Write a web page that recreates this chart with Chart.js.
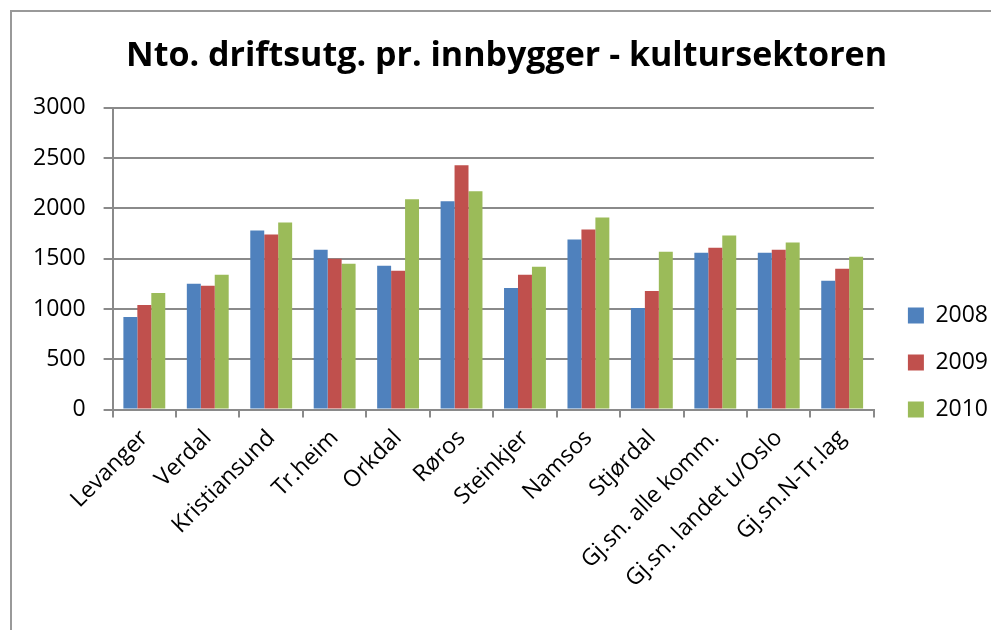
<!DOCTYPE html>
<html>
<head>
<meta charset="utf-8">
<script src="https://cdn.jsdelivr.net/npm/chart.js@4"></script>
<style>
  html, body { margin: 0; padding: 0; background: #fff; }
</style>
</head>
<body>
<canvas id="chart" width="999" height="630"></canvas>
<script>
'use strict';

// categories along the x axis
var labelsArray = ['Levanger', 'Verdal', 'Kristiansund', 'Tr.heim', 'Orkdal', 'Røros',
  'Steinkjer', 'Namsos', 'Stjørdal', 'Gj.sn. alle komm.', 'Gj.sn. landet u/Oslo', 'Gj.sn.N-Tr.lag'];

// values per year (kr per innbygger)
var data2008 = [920, 1250, 1780, 1590, 1430, 2070, 1210, 1690, 1010, 1560, 1560, 1280];
var data2009 = [1040, 1230, 1740, 1500, 1380, 2430, 1340, 1790, 1180, 1610, 1590, 1400];
var data2010 = [1160, 1340, 1860, 1450, 2090, 2170, 1420, 1910, 1570, 1730, 1660, 1520];

var seriesNames = ['2008', '2009', '2010'];
var yTicks = [0, 500, 1000, 1500, 2000, 2500, 3000];

var titleText = 'Nto. driftsutg. pr. innbygger - kultursektoren';

var gridColor = '#8a8a8a';
var tickFont = {family: "'Open Sans', 'Noto Sans', sans-serif", size: 23};

// grey frame round the chart, like the excel chart border
var framePlugin = {
  id: 'frame',
  beforeDraw: function(chart) {
    var ctx = chart.ctx;
    ctx.save();
    ctx.strokeStyle = '#999999';
    ctx.lineWidth = 2;
    ctx.beginPath();
    ctx.moveTo(11, 640);
    ctx.lineTo(11, 11);
    ctx.lineTo(991, 11);
    ctx.stroke();
    ctx.restore();
  }
};

var canvas = document.getElementById('chart');
var ctx = canvas.getContext('2d');

new Chart(ctx, {
  type: 'bar',
  data: {
    labels: labelsArray,
    datasets: [{
      label: seriesNames[0],
      data: data2008,
      backgroundColor: '#4F81BD'
    }, {
      label: seriesNames[1],
      data: data2009,
      backgroundColor: '#C0504D'
    }, {
      label: seriesNames[2],
      data: data2010,
      backgroundColor: '#9BBB59'
    }]
  },
  options: {
    responsive: false,
    devicePixelRatio: 1,
    animation: false,
    categoryPercentage: 0.66,
    barPercentage: 1.0,
    layout: {
      padding: {left: 15, right: 1, top: 0, bottom: 30}
    },
    plugins: {
      title: {
        display: true,
        text: titleText,
        color: '#000',
        font: {family: "'Open Sans', sans-serif", size: 34, weight: 'bold'},
        padding: {top: 36, bottom: 31}
      },
      legend: {
        position: 'right',
        // empty legend title only pushes the items down next to the plot
        title: {
          display: true,
          text: '',
          font: {size: 10},
          padding: {top: 113, bottom: 0}
        },
        labels: {
          color: '#000',
          font: tickFont,
          boxWidth: 16,
          boxHeight: 16,
          padding: 24
        }
      },
      tooltip: {enabled: false}
    },
    scales: {
      x: {
        grid: {
          display: true,
          drawOnChartArea: false,
          offset: true,
          color: gridColor,
          lineWidth: 2,
          tickLength: 8
        },
        border: {color: gridColor, width: 2},
        ticks: {
          color: '#000',
          font: tickFont,
          autoSkip: false,
          minRotation: 45,
          maxRotation: 45,
          padding: 7
        }
      },
      y: {
        min: 0,
        max: 3000,
        afterBuildTicks: function(scale) {
          scale.ticks = yTicks.map(function(v) { return {value: v}; });
        },
        grid: {
          color: gridColor,
          lineWidth: 2,
          tickLength: 9
        },
        border: {color: gridColor, width: 2},
        ticks: {
          color: '#000',
          font: tickFont,
          padding: 18,
          callback: function(value) {
            return String(value);
          }
        }
      },
      // empty axis, only keeps a gap between plot and legend
      spacer: {
        type: 'linear',
        position: 'right',
        display: true,
        grid: {display: false},
        border: {display: false},
        ticks: {display: false},
        afterFit: function(scale) {
          scale.width = 10;
        }
      }
    }
  },
  plugins: [framePlugin]
});
</script>
</body>
</html>
